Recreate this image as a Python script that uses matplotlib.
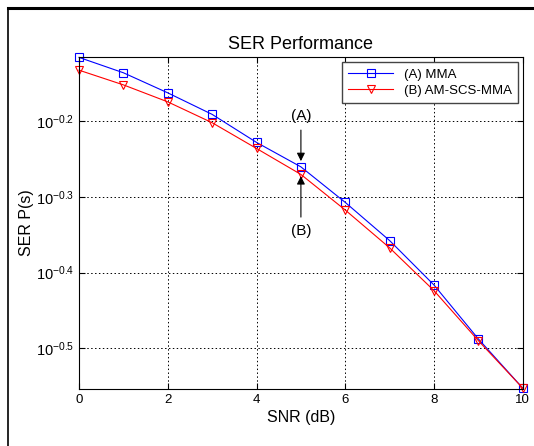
import matplotlib
matplotlib.use("Agg")
import matplotlib.pyplot as plt
from matplotlib.lines import Line2D
from matplotlib.ticker import FixedLocator, FixedFormatter, NullLocator

plt.rcParams["font.family"] = ["Liberation Sans", "DejaVu Sans"]
plt.rcParams["mathtext.default"] = "regular"

snr_db = [0, 1, 2, 3, 4, 5, 6, 7, 8, 9, 10]
ser_mma = [0.7661, 0.7311, 0.6878, 0.6442, 0.5916, 0.5492, 0.4929, 0.4389, 0.3834, 0.3254, 0.2802]
ser_am_scs_mma = [0.7369, 0.7047, 0.6692, 0.6281, 0.5808, 0.5367, 0.4816, 0.4293, 0.3769, 0.3237, 0.2802]
y_tick_exp = [-0.5, -0.4, -0.3, -0.2]
y_tick_labels = [r"$10^{%s}$" % e for e in y_tick_exp]
x_ticks = [0, 2, 4, 6, 8, 10]

fig = plt.figure(figsize=(5.34, 4.46), dpi=100)
ax = fig.add_axes([0.148, 0.128, 0.831, 0.744])

ax.plot(snr_db, ser_mma, color="blue", lw=0.8, marker="s", ms=6,
        mfc="none", mec="blue", mew=0.8, label="(A) MMA", clip_on=False)
ax.plot(snr_db, ser_am_scs_mma, color="red", lw=0.8, marker="v", ms=6,
        mfc="none", mec="red", mew=0.8, label="(B) AM-SCS-MMA", clip_on=False)

ax.set_yscale("log")
ax.set_xlim(0, 10)
ax.set_ylim(10 ** -0.5535, 10 ** -0.1153)
ax.yaxis.set_major_locator(FixedLocator([10 ** e for e in y_tick_exp]))
ax.yaxis.set_major_formatter(FixedFormatter(y_tick_labels))
ax.yaxis.set_minor_locator(NullLocator())
ax.set_xticks(x_ticks)
ax.tick_params(direction="in", top=True, right=True, labelsize=9.5, length=4)
ax.tick_params(axis="y", labelsize=10.5)
ax.grid(True, ls=(0, (1.5, 2.5)), color="black", lw=0.7)

ax.set_title("SER Performance", fontsize=13, pad=6)
ax.set_xlabel("SNR (dB)", fontsize=11.5, labelpad=3)
ax.set_ylabel("SER P(s)", fontsize=11.5, labelpad=1)

leg = ax.legend(loc="upper right", fontsize=9.5, fancybox=False, framealpha=1,
                edgecolor="#444444", handlelength=3.4, borderaxespad=0.4,
                borderpad=0.45, labelspacing=0.3)
leg.get_frame().set_linewidth(1.0)

arrow = dict(arrowstyle="-|>", color="black", lw=0.8, mutation_scale=12,
             shrinkA=3, shrinkB=0)
ax.annotate("(A)", xy=(5, 10 ** -0.2527), xytext=(5, 10 ** -0.1933),
            ha="center", va="center", fontsize=11, arrowprops=arrow)
ax.annotate("(B)", xy=(5, 10 ** -0.2725), xytext=(5, 10 ** -0.345),
            ha="center", va="center", fontsize=11, arrowprops=arrow)

# outer frame lines from the original screenshot
fig.add_artist(Line2D([0.015, 1.0], [0.982, 0.982], color="black", lw=2.2))
fig.add_artist(Line2D([0.015, 0.015], [0.0, 0.982], color="black", lw=1.2))

fig.savefig("out.png", dpi=100)
